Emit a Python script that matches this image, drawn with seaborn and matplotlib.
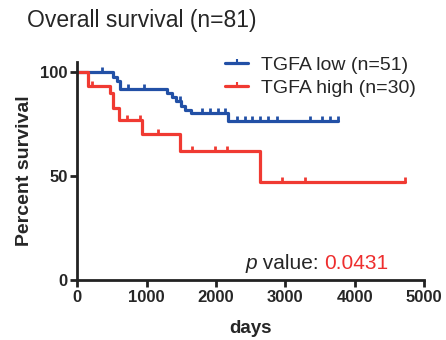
import numpy as np
import pandas as pd
import matplotlib
matplotlib.use("Agg")
import matplotlib.pyplot as plt
from matplotlib.lines import Line2D
import seaborn as sns

# Kaplan-Meier steps
low_times = [0, 510, 568, 616, 1290, 1360, 1430, 1500, 1560, 1640, 2180]
low_surv = [100, 98.0, 96.0, 92.0, 90.0, 88.0, 86.0, 84.0, 82.0, 80.2, 76.6]
low_end = 3760
low_censor = [352, 735, 962, 1480, 1794, 1914, 2033, 2130, 2299, 2418,
              2515, 2638, 2754, 2875, 3355, 3524, 3643, 3760]

high_times = [0, 150, 470, 510, 600, 930, 1480, 2640]
high_surv = [100, 93.3, 89.9, 83.0, 77.1, 70.2, 62.2, 47.1]
high_end = 4725
high_censor = [215, 710, 910, 1170, 1660, 1990, 2160, 2950, 3280, 4725]

groups = ["TGFA low (n=51)", "TGFA high (n=30)"]
colors = ["#2250A6", "#F03A32"]
p_value = "0.0431"

sns.set_style("ticks")
plt.rcParams['font.family'] = ['Liberation Sans', 'DejaVu Sans']

def step_df(times, surv, end, name):
    d = pd.DataFrame({'days': list(times) + [end], 'surv': list(surv) + [surv[-1]]})
    d['group'] = name
    return d

def censor_df(times, surv, cens, name):
    idx = np.searchsorted(times, cens, side='right') - 1
    return pd.DataFrame({'days': cens, 'surv': np.array(surv)[idx], 'group': name})

steps = pd.concat([step_df(low_times, low_surv, low_end, groups[0]),
                   step_df(high_times, high_surv, high_end, groups[1])])
cens = [censor_df(low_times, low_surv, low_censor, groups[0]),
        censor_df(high_times, high_surv, high_censor, groups[1])]

fig = plt.figure(figsize=(4.46, 3.4), dpi=100)
ax = fig.add_axes([77.3 / 446, 60 / 340, 346.7 / 446, 218 / 340])

sns.lineplot(data=steps, x='days', y='surv', hue='group', palette=colors,
             drawstyle='steps-post', estimator=None, sort=False,
             linewidth=2.3, legend=False, ax=ax)

tick = [(0, 0), (0, 1)]
for c, col in zip(cens, colors):
    sns.scatterplot(data=c, x='days', y='surv', marker=tick, s=45,
                    color=col, edgecolor=col, linewidth=2, ax=ax, zorder=3)

ax.set_xlim(0, 5000)
ax.set_ylim(0, 105)
ax.set_xticks([0, 1000, 2000, 3000, 4000, 5000])
ax.set_yticks([0, 50, 100])
for s in ['top', 'right']:
    ax.spines[s].set_visible(False)
for s in ['left', 'bottom']:
    ax.spines[s].set_linewidth(2)
    ax.spines[s].set_color('#222222')
ax.tick_params(width=2, length=5, labelsize=12, color='#222222', pad=2)
for lab in ax.get_xticklabels() + ax.get_yticklabels():
    lab.set_fontweight('bold')

ax.set_xlabel('days', fontsize=13.5, fontweight='bold', labelpad=11)
ax.set_ylabel('Percent survival', fontsize=14, fontweight='bold', labelpad=5)

fig.text(27 / 446, 1 - 27 / 340, 'Overall survival (n=81)', fontsize=16.5,
         va='baseline', ha='left')

handles = [Line2D([], [], color=col, lw=2.3, marker=tick, markersize=6,
                  markeredgewidth=1.5) for col in colors]
fig.legend(handles, groups, loc='upper left', bbox_to_anchor=(225 / 446, 1 - 56 / 340),
           frameon=False, fontsize=14, handlelength=1.2, handletextpad=0.65,
           labelspacing=0.28, borderpad=0, borderaxespad=0)

t1 = ax.text(2420, 5.5, 'p', fontsize=15, style='italic', va='baseline')
t2 = ax.annotate(' value: ', xy=(1, 0), xycoords=t1, fontsize=15, va='bottom')
ax.annotate(p_value, xy=(1, 0), xycoords=t2, fontsize=15, va='bottom', color='#EE2E2E')

fig.savefig('out.png', dpi=100)
